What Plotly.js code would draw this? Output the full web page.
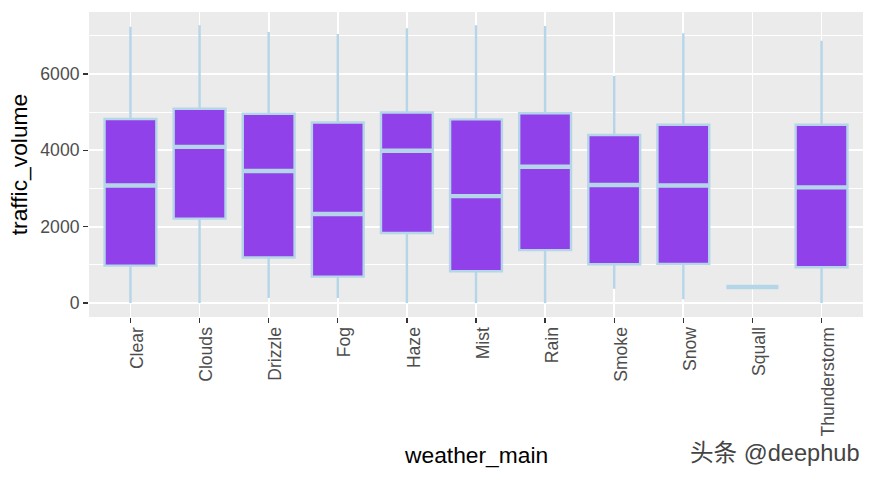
<!DOCTYPE html>
<html><head><meta charset="utf-8">
<script src="https://cdn.plot.ly/plotly-3.0.1.min.js"></script>
<style>html,body{margin:0;padding:0;background:#fff}#c{width:875px;height:478px}</style>
</head><body><div id="c"></div>
<script>
const categories=["Clear","Clouds","Drizzle","Fog","Haze","Mist","Rain","Smoke","Snow","Squall","Thunderstorm"];
const whiskerLow=[0,0,130,130,0,0,0,370,100,418,0];
const q1Values=[980,2210,1190,690,1835,830,1385,1015,1025,418,935];
const medianValues=[3080,4090,3460,2330,3990,2800,3570,3090,3080,418,3030];
const q3Values=[4820,5090,4960,4730,4990,4810,4970,4400,4670,418,4670];
const whiskerHigh=[7240,7280,7100,7050,7200,7280,7260,5950,7070,418,6870];
const boxLine="#B5D6E8", boxFill="#9141EA";
const traces=[
 {type:"box",x:categories,q1:q1Values,median:medianValues,q3:q3Values,lowerfence:whiskerLow,upperfence:whiskerHigh,
  width:0.75,whiskerwidth:0,fillcolor:boxFill,line:{color:boxLine,width:2.4},boxpoints:false,hoverinfo:"skip",showlegend:false},
 {type:"box",x:categories,q1:medianValues,median:medianValues,q3:medianValues,lowerfence:medianValues,upperfence:medianValues,
  width:0.75,whiskerwidth:0,fillcolor:boxLine,line:{color:boxLine,width:4.4},boxpoints:false,hoverinfo:"skip",showlegend:false}
];
const layout={
 width:875,height:478,paper_bgcolor:"#fff",plot_bgcolor:"#EBEBEB",
 margin:{l:89,r:12,t:12,b:161},showlegend:false,boxmode:"overlay",
 font:{family:"'Liberation Sans',Arial,sans-serif"},
 xaxis:{type:"category",categoryorder:"array",categoryarray:categories,range:[-0.6,10.6],
  tickangle:-90,ticks:"outside",ticklen:5,tickwidth:1.4,tickcolor:"#333",ticklabelshift:7,ticklabelstandoff:-3,
  tickfont:{size:17.6,color:"#4D4D4D"},showgrid:true,gridcolor:"#fff",gridwidth:1.8,zeroline:false,showline:false,
  title:{text:""}},
 yaxis:{range:[-367,7624],tickmode:"array",tickvals:[0,2000,4000,6000],ticktext:["0","2000","4000","6000"],
  ticks:"outside",ticklen:5,tickwidth:1.4,tickcolor:"#333",
  tickfont:{size:17.6,color:"#4D4D4D"},showgrid:true,gridcolor:"#fff",gridwidth:1.8,zeroline:false,showline:false,
  minor:{tickmode:"array",tickvals:[1000,3000,5000,7000],showgrid:true,gridcolor:"#fff",gridwidth:1,ticks:""},
  title:{text:"traffic_volume",font:{size:22.8,color:"#000"},standoff:6}},
 annotations:[
  {text:"weather_main",xref:"paper",yref:"paper",x:(476-89)/774,y:-(455-317)/305,xanchor:"center",yanchor:"middle",showarrow:false,font:{size:22.8,color:"#000"}},
  {text:"头条 @deephub",xref:"paper",yref:"paper",x:(862-89)/774,y:-(453-317)/305,xanchor:"right",yanchor:"middle",showarrow:false,
   font:{size:23.6,color:"#444",family:"'Liberation Sans','Noto Sans CJK SC',sans-serif"}}
 ]
};
Plotly.newPlot("c",traces,layout,{displayModeBar:false,staticPlot:true});
</script></body></html>
